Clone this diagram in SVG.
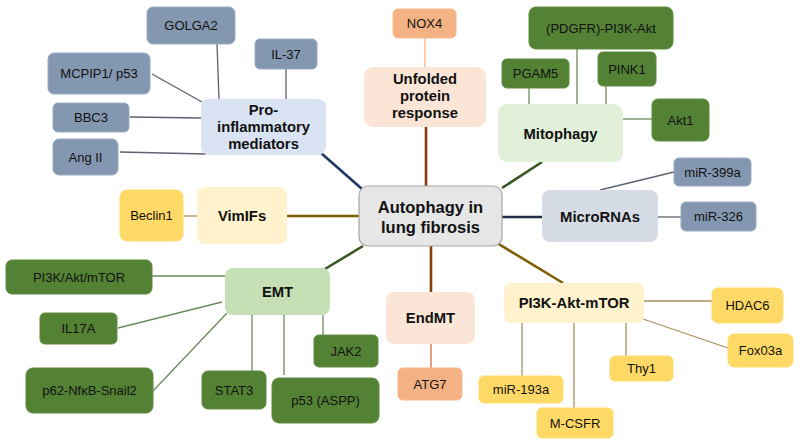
<svg xmlns="http://www.w3.org/2000/svg" width="800" height="445" viewBox="0 0 800 445">
<style>
text{font-family:"Liberation Sans",Arial,sans-serif;text-anchor:middle;fill:#111}
.leaf{font-size:13px}
.cat{font-size:14.8px;font-weight:bold}
.ctr{font-size:16.5px;font-weight:bold}
.blue{fill:#8497b0;stroke:#9aaac0;stroke-width:1}
.green{fill:#548235;stroke:#5e8c3e;stroke-width:1}
.yel{fill:#ffd966;stroke:#ffdc70;stroke-width:1}
.org{fill:#f4b183;stroke:#f6bb90;stroke-width:1}
.c-blue{fill:#dae3f3}
.c-mic{fill:#d6dce5}
.c-mito{fill:#e2f0d9}
.c-emt{fill:#c5e0b4}
.c-pea{fill:#fbe5d6}
.c-yel{fill:#fff2cc}
.center{fill:#e7e6e6;stroke:#a6a6a6;stroke-width:1.2}
.thin{fill:none;stroke-width:1.3}
.main{fill:none;stroke-width:2.6}
</style>
<rect width="800" height="445" fill="#ffffff"/>
<g id="connectors">
  <!-- main -->
  <line class="main" x1="321" y1="153" x2="362" y2="189" stroke="#1f3864"/>
  <line class="main" x1="426" y1="127" x2="426" y2="186" stroke="#843c0c"/>
  <line class="main" x1="542" y1="162" x2="502" y2="188" stroke="#385723"/>
  <line class="main" x1="502" y1="217" x2="542" y2="217" stroke="#1f2a44"/>
  <line class="main" x1="287" y1="216" x2="359" y2="216" stroke="#7f6000"/>
  <line class="main" x1="325" y1="269" x2="363" y2="246" stroke="#385723"/>
  <line class="main" x1="431" y1="246" x2="431" y2="292" stroke="#843c0c"/>
  <line class="main" x1="497" y1="243" x2="563" y2="283" stroke="#7f6000"/>
  <!-- pro-inflammatory leaves -->
  <g stroke="#5a6270" class="thin">
    <line x1="217" y1="44" x2="219" y2="99"/>
    <line x1="286" y1="69" x2="286" y2="99"/>
    <line x1="152" y1="74" x2="202" y2="102"/>
    <line x1="130" y1="117" x2="201" y2="118"/>
    <line x1="120" y1="152" x2="206" y2="154"/>
    <line x1="600" y1="190" x2="674" y2="172"/>
    <line x1="658" y1="217" x2="681" y2="217"/>
  </g>
  <line class="thin" x1="425" y1="38" x2="425" y2="67" stroke="#f4b183"/>
  <line class="thin" x1="431" y1="344" x2="431" y2="368" stroke="#e2693a"/>
  <g stroke="#6b8a5a" class="thin">
    <line x1="529" y1="88" x2="529" y2="104"/>
    <line x1="577" y1="49" x2="577" y2="104"/>
    <line x1="606" y1="86" x2="606" y2="104"/>
    <line x1="623" y1="119" x2="652" y2="119"/>
    <line x1="152" y1="276" x2="225" y2="276"/>
    <line x1="118" y1="328" x2="222" y2="302"/>
    <line x1="153" y1="391" x2="227" y2="313"/>
    <line x1="252" y1="315" x2="252" y2="371"/>
    <line x1="284" y1="315" x2="284" y2="375"/>
    <line x1="323" y1="315" x2="323" y2="335"/>
  </g>
  <g stroke="#a89060" class="thin">
    <line x1="183" y1="216" x2="197" y2="216"/>
    <line x1="644" y1="301" x2="712" y2="301"/>
    <line x1="643" y1="319" x2="728" y2="348"/>
    <line x1="626" y1="323" x2="626" y2="356"/>
    <line x1="522" y1="323" x2="522" y2="376"/>
    <line x1="574" y1="323" x2="574" y2="408"/>
  </g>
</g>
<g id="center"><rect class="center" x="359" y="186" width="143" height="60" rx="9"/><text class="ctr" x="430.5" y="213">Autophagy in</text><text class="ctr" x="430.5" y="233">lung fibrosis</text></g>

<g id="proinflammatory"><rect class="c-blue" x="201" y="99" width="125" height="56" rx="8"/><text class="cat" x="263.5" y="115">Pro-</text><text class="cat" x="263.5" y="132">inflammatory</text><text class="cat" x="263.5" y="149">mediators</text></g>
<g id="golga2"><rect class="blue" x="147" y="7" width="88" height="37" rx="6"/><text class="leaf" x="191" y="30">GOLGA2</text></g>
<g id="il37"><rect class="blue" x="255" y="39" width="62" height="30" rx="5"/><text class="leaf" x="286" y="59">IL-37</text></g>
<g id="mcpip1"><rect class="blue" x="48" y="53" width="102" height="41" rx="6"/><text class="leaf" x="99" y="78">MCPIP1/ p53</text></g>
<g id="bbc3"><rect class="blue" x="53" y="103" width="76" height="29" rx="5"/><text class="leaf" x="91" y="122">BBC3</text></g>
<g id="angii"><rect class="blue" x="53" y="139" width="65" height="36" rx="6"/><text class="leaf" x="85.5" y="162">Ang II</text></g>

<g id="upr"><rect class="c-pea" x="364" y="67" width="122" height="60" rx="9"/><text class="cat" x="425" y="84">Unfolded</text><text class="cat" x="425" y="101">protein</text><text class="cat" x="425" y="118">response</text></g>
<g id="nox4"><rect class="org" x="393" y="9" width="63" height="29" rx="5"/><text class="leaf" x="424.5" y="28">NOX4</text></g>

<g id="mitophagy"><rect class="c-mito" x="498" y="104" width="125" height="58" rx="9"/><text class="cat" x="560.5" y="139">Mitophagy</text></g>
<g id="pdgfr"><rect class="green" x="529" y="7" width="144" height="42" rx="7"/><text class="leaf" x="601" y="33">(PDGFR)-PI3K-Akt</text></g>
<g id="pgam5"><rect class="green" x="502" y="59" width="67" height="29" rx="5"/><text class="leaf" x="535.5" y="78">PGAM5</text></g>
<g id="pink1"><rect class="green" x="598" y="52" width="58" height="34" rx="5"/><text class="leaf" x="627" y="74">PINK1</text></g>
<g id="akt1"><rect class="green" x="652" y="99" width="57" height="42" rx="6"/><text class="leaf" x="680.5" y="125">Akt1</text></g>

<g id="micrornas"><rect class="c-mic" x="542" y="190" width="116" height="52" rx="8"/><text class="cat" x="600" y="222">MicroRNAs</text></g>
<g id="mir399a"><rect class="blue" x="674" y="158" width="77" height="28" rx="5"/><text class="leaf" x="712.5" y="177">miR-399a</text></g>
<g id="mir326"><rect class="blue" x="681" y="202" width="75" height="29" rx="5"/><text class="leaf" x="718.5" y="221">miR-326</text></g>

<g id="vimifs"><rect class="c-yel" x="197" y="187" width="90" height="57" rx="8"/><text class="cat" x="242" y="221">VimIFs</text></g>
<g id="beclin1"><rect class="yel" x="120" y="190" width="63" height="51" rx="7"/><text class="leaf" x="151.5" y="220">Beclin1</text></g>

<g id="emt"><rect class="c-emt" x="225" y="268" width="105" height="47" rx="8"/><text class="cat" x="277.5" y="297">EMT</text></g>
<g id="pi3kaktmtor-leaf"><rect class="green" x="6" y="260" width="146" height="34" rx="6"/><text class="leaf" x="79" y="282">PI3K/Akt/mTOR</text></g>
<g id="il17a"><rect class="green" x="40" y="313" width="77" height="31" rx="5"/><text class="leaf" x="78.5" y="333">IL17A</text></g>
<g id="p62"><rect class="green" x="26" y="368" width="127" height="45" rx="7"/><text class="leaf" x="89.5" y="395">p62-NfκB-Snail2</text></g>
<g id="stat3"><rect class="green" x="202" y="371" width="64" height="38" rx="6"/><text class="leaf" x="234" y="395">STAT3</text></g>
<g id="p53aspp"><rect class="green" x="272" y="378" width="107" height="45" rx="7"/><text class="leaf" x="325.5" y="405">p53 (ASPP)</text></g>
<g id="jak2"><rect class="green" x="314" y="335" width="64" height="32" rx="5"/><text class="leaf" x="346" y="356">JAK2</text></g>

<g id="endmt"><rect class="c-pea" x="386" y="292" width="89" height="52" rx="8"/><text class="cat" x="430.5" y="323">EndMT</text></g>
<g id="atg7"><rect class="org" x="398" y="368" width="64" height="32" rx="5"/><text class="leaf" x="430" y="389">ATG7</text></g>

<g id="pi3kaktmtor"><rect class="c-yel" x="504" y="283" width="140" height="40" rx="7"/><text class="cat" x="574" y="308">PI3K-Akt-mTOR</text></g>
<g id="hdac6"><rect class="yel" x="712" y="288" width="71" height="35" rx="6"/><text class="leaf" x="747.5" y="310">HDAC6</text></g>
<g id="fox03a"><rect class="yel" x="728" y="334" width="65" height="33" rx="6"/><text class="leaf" x="760.5" y="355">Fox03a</text></g>
<g id="thy1"><rect class="yel" x="610" y="356" width="63" height="25" rx="5"/><text class="leaf" x="641.5" y="373">Thy1</text></g>
<g id="mir193a"><rect class="yel" x="479" y="376" width="84" height="27" rx="5"/><text class="leaf" x="521" y="394">miR-193a</text></g>
<g id="mcsfr"><rect class="yel" x="537" y="408" width="76" height="30" rx="5"/><text class="leaf" x="575" y="428">M-CSFR</text></g>
</svg>
